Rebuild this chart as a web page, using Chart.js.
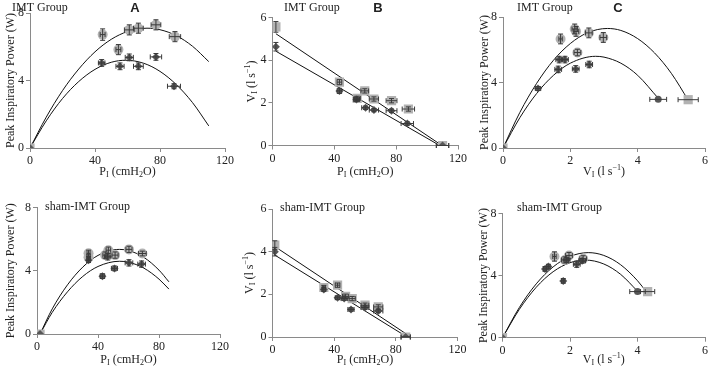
<!DOCTYPE html>
<html>
<head>
<meta charset="utf-8">
<script src="https://cdn.jsdelivr.net/npm/chart.js@4.4.1/dist/chart.umd.min.js"></script>
<style>
  body { margin: 0; width: 709px; height: 373px; overflow: hidden; background: #fff; position: relative; }
  canvas { position: absolute; }
</style>
</head>
<body>
<canvas id="cA"></canvas>
<canvas id="cB"></canvas>
<canvas id="cC"></canvas>
<canvas id="cD"></canvas>
<canvas id="cE"></canvas>
<canvas id="cF"></canvas>
<script>
// rows: [x, y, xErr, yErr]   pre = dark, post = light
// A: IMT, P_I vs power
const A_pre  = [[0,0,0,0],[44.1,5.04,2,0.2],[55.4,4.84,2.5,0.2],[61.1,5.37,2.5,0.2],[66.7,4.84,3,0.2],[77.5,5.4,3.5,0.2],[88.6,3.66,4,0.15]]
const A_post = [[0,0,0,0],[44.7,6.72,1.5,0.34],[54.4,5.83,1.5,0.3],[61.1,7.0,3,0.3],[66.7,7.1,3,0.3],[77.5,7.3,3,0.3],[89.2,6.6,3.5,0.3]]
const A_preFit  = [[0,0],[10,1.61],[20,2.93],[30,3.94],[40,4.66],[50,5.08],[59,5.2],[70,5.02],[80,4.54],[90,3.76],[100,2.69],[110,1.31]]
const A_postFit = [[0,0],[10,1.83],[20,3.4],[30,4.68],[40,5.7],[50,6.44],[60,6.9],[72,7.1],[80,7.01],[90,6.66],[100,6.03],[110,5.12]]

// B: IMT, P_I vs V_I
const B_pre  = [[2.2,4.63,0,0.2],[43.3,2.56,1.5,0.12],[54.3,2.16,2,0.1],[60.2,1.77,2.5,0.08],[65.6,1.66,3,0.08],[77,1.63,3.5,0.08],[87.2,1.03,4,0.08],[110,0,4,0]]
const B_post = [[2.2,5.56,0,0.25],[43.3,2.97,1.5,0.12],[54.8,2.21,2,0.1],[59.7,2.56,2.5,0.1],[65.6,2.18,3,0.1],[77,2.1,3.5,0.1],[87.9,1.71,4,0.1],[110,0,4,0]]
const B_preFit  = [[2.2,4.42],[108.2,0]]
const B_postFit = [[2.2,5.24],[109,0.03]]

// C: IMT, V_I vs power
const C_pre  = [[0,0,0,0],[1.04,3.63,0.08,0.12],[1.64,4.8,0.1,0.2],[1.67,5.4,0.1,0.2],[1.84,5.4,0.1,0.2],[2.16,4.83,0.1,0.2],[2.56,5.1,0.1,0.2],[4.61,2.97,0.25,0]]
const C_post = [[0,0,0,0],[1.71,6.66,0.05,0.3],[2.13,7.27,0.08,0.3],[2.17,7.12,0.08,0.3],[2.55,7.03,0.1,0.3],[2.98,6.75,0.1,0.3],[2.21,5.83,0.1,0.2],[5.5,2.95,0.3,0]]
const C_preFit  = [[0,0],[0.5,1.85],[1,3.33],[1.5,4.44],[2,5.18],[2.75,5.6],[3,5.55],[3.5,5.18],[4,4.44],[4.61,3.04]]
const C_postFit = [[0,0],[0.5,2.17],[1,3.95],[1.5,5.36],[2,6.38],[2.5,7.03],[3.1,7.3],[3.5,7.18],[4,6.68],[4.5,5.81],[5,4.56],[5.5,2.93]]

// D: sham-IMT, P_I vs power
const D_pre  = [[2,0,0,0],[33.8,4.67,1,0.15],[42.9,3.66,1.5,0.15],[46.4,4.88,2,0.2],[50.8,4.15,2,0.15],[60.3,4.5,2.5,0.2],[68.6,4.42,2.5,0.2]]
const D_post = [[2,0,0,0],[33.8,5.1,1,0.2],[33.8,4.85,1,0.2],[44.7,4.99,1.5,0.2],[46.8,5.3,1.5,0.2],[51.2,4.99,2,0.2],[60.3,5.35,2,0.2],[69.1,5.09,2.5,0.15]]
const D_preFit  = [[2,0],[10,1.37],[20,2.67],[30,3.64],[40,4.27],[54,4.6],[60,4.54],[70,4.17],[80,3.47],[86.5,2.84]]
const D_postFit = [[2,0],[10,1.59],[20,3.11],[30,4.23],[40,4.97],[54,5.35],[60,5.28],[70,4.85],[80,4.04],[86.5,3.3]]

// E: sham-IMT, P_I vs V_I
const E_pre  = [[1.5,4.0,0,0.2],[33.3,2.23,1,0.1],[42.2,1.84,1.5,0.08],[46.5,1.8,2,0.08],[50.9,1.29,2,0.08],[60,1.38,2.5,0.08],[68.6,1.22,3,0.08],[86.4,0,3,0]]
const E_post = [[1.5,4.31,0,0.2],[33.3,2.32,1,0.1],[42.2,2.43,1.5,0.1],[47.4,1.91,2,0.1],[51.7,1.8,2,0.1],[60,1.49,2.5,0.1],[68.6,1.41,3,0.1],[86.4,0,3,0]]
const E_preFit  = [[1.5,3.84],[85.5,0.08]]
const E_postFit = [[1.5,4.24],[86.4,0.16]]

// F: sham-IMT, V_I vs power
const F_pre  = [[0,0,0,0],[1.26,4.43,0.05,0.15],[1.36,4.58,0.05,0.15],[1.8,3.66,0.05,0.15],[1.9,5.0,0.1,0.15],[2.2,4.73,0.1,0.2],[2.36,4.95,0.1,0.15],[4.0,2.97,0.23,0]]
const F_post = [[0,0,0,0],[1.54,5.23,0.05,0.3],[1.85,5.01,0.1,0.2],[1.97,5.29,0.1,0.2],[2.39,5.08,0.1,0.2],[4.3,2.97,0.21,0]]
const F_preFit  = [[0,0],[0.5,1.83],[1,3.25],[1.5,4.25],[2,4.83],[2.45,5.0],[3,4.75],[3.5,4.08],[4,3.0]]
const F_postFit = [[0,0],[0.5,1.95],[1,3.47],[1.5,4.56],[2,5.23],[2.54,5.48],[3,5.3],[3.5,4.7],[4,3.67],[4.27,2.94]]

// axis titles, [text, 0 normal | 1 sub | 2 sup]
const P_TITLE = [['P',0],['I',1],[' (cmH',0],['2',1],['O)',0]]
const V_TITLE = [['V',0],['I',1],[' (l s',0],['\u22121',2],[')',0]]
const W_TITLE = [['Peak Inspiratory Power (W)',0]]

const FONT = "'Liberation Serif', 'Times New Roman', serif"
const DARK = '#575757'
const LIGHT = '#b2b2b2'
const AXIS = '#8a8a8a'
const Y_BOX = 22   // fixed width of the y scale box
const X_BOX = 24   // fixed height of the x scale box

// pad = distance from canvas edge to the plot area
const panels = [
  {id:'cA', left:0, top:0, w:236, h:186, pad:{left:30, top:13, right:11, bottom:38}, xMax:120, xStep:40, yMax:8, yStep:4,
   xTitle:P_TITLE, yTitle:W_TITLE, group:'IMT Group', gx:12, gy:8, letter:'A', lx:135, yTitleX:11, xTitleY:172,
   pre:A_pre, post:A_post, preFit:A_preFit, postFit:A_postFit, postStyle:'circle', endStyle:null},
  {id:'cB', left:236, top:0, w:234, h:186, pad:{left:36.5, top:17.5, right:12, bottom:40.5}, xMax:120, xStep:40, yMax:6, yStep:2,
   xTitle:P_TITLE, yTitle:V_TITLE, group:'IMT Group', gx:48, gy:8, letter:'B', lx:142, yTitleX:16, xTitleY:172,
   pre:B_pre, post:B_post, preFit:B_preFit, postFit:B_postFit, postStyle:'rect', endStyle:null},
  {id:'cC', left:470, top:0, w:245, h:186, pad:{left:33, top:17, right:10, bottom:38}, xMax:6, xStep:2, yMax:8, yStep:4,
   xTitle:V_TITLE, yTitle:W_TITLE, group:'IMT Group', gx:47, gy:8, letter:'C', lx:148, yTitleX:15, xTitleY:172,
   pre:C_pre, post:C_post, preFit:C_preFit, postFit:C_postFit, postStyle:'circle', endStyle:'circle'},
  {id:'cD', left:0, top:186, w:236, h:187, pad:{left:37, top:21.5, right:16, bottom:39}, xMax:120, xStep:40, yMax:8, yStep:4,
   xTitle:P_TITLE, yTitle:W_TITLE, group:'sham-IMT Group', gx:45, gy:21, letter:'', lx:0, yTitleX:11, xTitleY:174,
   pre:D_pre, post:D_post, preFit:D_preFit, postFit:D_postFit, postStyle:'circle', endStyle:null},
  {id:'cE', left:236, top:186, w:234, h:187, pad:{left:36.5, top:23, right:12.5, bottom:36}, xMax:120, xStep:40, yMax:6, yStep:2,
   xTitle:P_TITLE, yTitle:V_TITLE, group:'sham-IMT Group', gx:44, gy:22, letter:'', lx:0, yTitleX:14, xTitleY:174,
   pre:E_pre, post:E_post, preFit:E_preFit, postFit:E_postFit, postStyle:'rect', endStyle:null},
  {id:'cF', left:470, top:186, w:245, h:187, pad:{left:32.5, top:27.5, right:10, bottom:35.3}, xMax:6, xStep:2, yMax:8, yStep:4,
   xTitle:V_TITLE, yTitle:W_TITLE, group:'sham-IMT Group', gx:47, gy:22, letter:'', lx:0, yTitleX:14, xTitleY:174,
   pre:F_pre, post:F_post, preFit:F_preFit, postFit:F_postFit, postStyle:'circle', endStyle:'circle'}
]

function drawRich(ctx, parts, x, y, rotate) {
  ctx.save()
  ctx.translate(x, y)
  if (rotate) ctx.rotate(-Math.PI / 2)
  let total = 0
  parts.forEach(p => { ctx.font = (p[1] ? 8 : 12) + 'px ' + FONT; total += ctx.measureText(p[0]).width })
  let cx = -total / 2
  ctx.textBaseline = 'middle'
  ctx.textAlign = 'left'
  ctx.fillStyle = '#222'
  parts.forEach(p => {
    ctx.font = (p[1] ? 8 : 12) + 'px ' + FONT
    const dy = p[1] == 1 ? 3 : p[1] == 2 ? -4 : 0
    ctx.fillText(p[0], cx, dy)
    cx += ctx.measureText(p[0]).width
  })
  ctx.restore()
}

// error bars with small caps, drawn over the markers
const errorBars = {
  id: 'errorBars',
  afterDatasetsDraw(chart) {
    const ctx = chart.ctx, xs = chart.scales.x, ys = chart.scales.y
    ctx.save()
    ctx.strokeStyle = '#3a3a3a'
    ctx.lineWidth = 1
    chart.data.datasets.forEach(ds => {
      if (!ds.errorBars) return
      ds.data.forEach(p => {
        const px = xs.getPixelForValue(p.x), py = ys.getPixelForValue(p.y)
        ctx.beginPath()
        if (p.ex) {
          const l = xs.getPixelForValue(p.x - p.ex), r = xs.getPixelForValue(p.x + p.ex)
          ctx.moveTo(l, py); ctx.lineTo(r, py)
          ctx.moveTo(l, py - 2.5); ctx.lineTo(l, py + 2.5)
          ctx.moveTo(r, py - 2.5); ctx.lineTo(r, py + 2.5)
        }
        if (p.ey) {
          const t = ys.getPixelForValue(p.y + p.ey), b = ys.getPixelForValue(p.y - p.ey)
          ctx.moveTo(px, t); ctx.lineTo(px, b)
          ctx.moveTo(px - 2.5, t); ctx.lineTo(px + 2.5, t)
          ctx.moveTo(px - 2.5, b); ctx.lineTo(px + 2.5, b)
        }
        ctx.stroke()
      })
    })
    ctx.restore()
  }
}

// axis titles, group label and panel letter
const panelText = {
  id: 'panelText',
  afterDraw(chart, args, opts) {
    const ctx = chart.ctx, a = chart.chartArea
    drawRich(ctx, opts.xTitle, (a.left + a.right) / 2, opts.xTitleY, false)
    drawRich(ctx, opts.yTitle, opts.yTitleX, (a.top + a.bottom) / 2, true)
    ctx.save()
    ctx.fillStyle = '#222'
    ctx.textBaseline = 'middle'
    ctx.textAlign = 'left'
    ctx.font = '12px ' + FONT
    ctx.fillText(opts.group, opts.gx, opts.gy)
    if (opts.letter) {
      ctx.textAlign = 'center'
      ctx.font = 'bold 13px "Liberation Sans", Arial, sans-serif'
      ctx.fillText(opts.letter, opts.lx, opts.gy)
    }
    ctx.restore()
  }
}

const toPts = rows => rows.map(r => ({x: r[0], y: r[1], ex: r[2] || 0, ey: r[3] || 0}))
const toLine = rows => rows.map(r => ({x: r[0], y: r[1]}))

function axis(max, step) {
  return {
    type: 'linear', min: 0, max: max,
    ticks: { stepSize: step, color: '#222', font: { family: FONT, size: 12 }, padding: 2, autoSkip: false },
    grid: { display: true, drawOnChartArea: false, drawTicks: true, tickLength: 4, color: AXIS },
    border: { display: true, color: AXIS, width: 1 },
    afterFit: s => { if (s.isHorizontal()) s.height = X_BOX; else s.width = Y_BOX }
  }
}

function makePanel(p) {
  const cv = document.getElementById(p.id)
  cv.width = p.w
  cv.height = p.h
  cv.style.left = p.left + 'px'
  cv.style.top = p.top + 'px'

  // layout padding leaves room for the fixed-size scale boxes
  const pad = { left: p.pad.left - Y_BOX, top: p.pad.top, right: p.pad.right, bottom: p.pad.bottom - X_BOX }
  const lastPre = p.pre.length - 1, lastPost = p.post.length - 1

  new Chart(cv, {
    type: 'scatter',
    data: {
      datasets: [
        { data: toPts(p.pre), errorBars: true, backgroundColor: DARK, borderColor: DARK, borderWidth: 0,
          pointStyle: ctx => (p.endStyle && ctx.dataIndex === lastPre) ? p.endStyle : 'rectRot',
          pointRadius: ctx => (p.endStyle && ctx.dataIndex === lastPre) ? 3.5 : 4, showLine: false },
        { data: toPts(p.post), errorBars: true, backgroundColor: LIGHT, borderColor: LIGHT, borderWidth: 0,
          pointStyle: ctx => (ctx.raw && ctx.raw.y === 0) || (p.endStyle && ctx.dataIndex === lastPost) ? 'rect' : p.postStyle,
          pointRadius: ctx => {
            const sq = (ctx.raw && ctx.raw.y === 0) || (p.endStyle && ctx.dataIndex === lastPost) || p.postStyle === 'rect'
            return sq ? 6.5 : 5
          }, showLine: false },
        { type: 'line', data: toLine(p.preFit), borderColor: '#111', borderWidth: 1, pointRadius: 0,
          cubicInterpolationMode: 'monotone', fill: false },
        { type: 'line', data: toLine(p.postFit), borderColor: '#111', borderWidth: 1, pointRadius: 0,
          cubicInterpolationMode: 'monotone', fill: false }
      ]
    },
    options: {
      responsive: false,
      animation: false,
      devicePixelRatio: 1,
      layout: { padding: pad },
      scales: { x: axis(p.xMax, p.xStep), y: axis(p.yMax, p.yStep) },
      plugins: {
        legend: { display: false },
        tooltip: { enabled: false },
        panelText: { xTitle: p.xTitle, yTitle: p.yTitle, xTitleY: p.xTitleY, yTitleX: p.yTitleX,
                     group: p.group, gx: p.gx, gy: p.gy, letter: p.letter, lx: p.lx }
      }
    },
    plugins: [errorBars, panelText]
  })
}

panels.forEach(makePanel)
</script>
</body>
</html>
